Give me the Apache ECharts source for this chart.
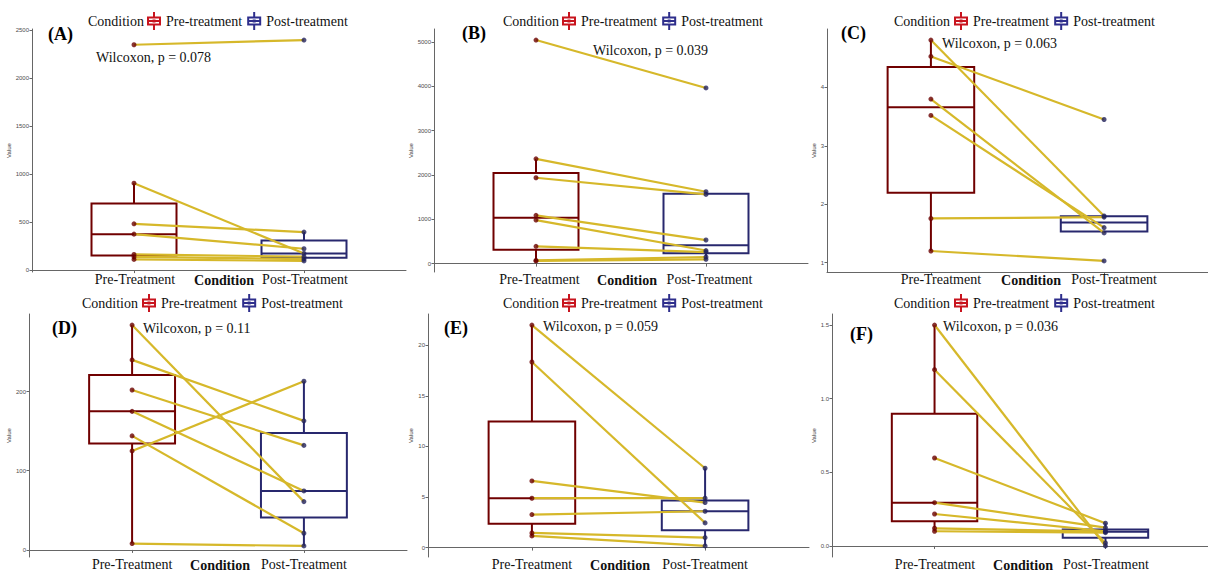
<!DOCTYPE html>
<html><head><meta charset="utf-8">
<script src="https://cdn.jsdelivr.net/npm/echarts@6/dist/echarts.min.js"></script>
<style>html,body{margin:0;padding:0;background:#fff}#c{width:1208px;height:573px}</style>
</head><body><div id="c"></div>
<script>
// ---------------- data ----------------
const categories = ['Pre-Treatment', 'Post-Treatment'];
const legendNames = ['Pre-treatment', 'Post-treatment'];
const panelLabels = ['(A)', '(B)', '(C)', '(D)', '(E)', '(F)'];
const pValues = ['0.078', '0.039', '0.063', '0.11', '0.059', '0.036'];

const preA  = [2344, 904, 481, 374, 163, 138, 111];
const postA = [2393, 173, 395, 222, 140, 115, 95];
const preB  = [5045, 2365, 1937, 1090, 983, 390, 72, 60];
const postB = [3964, 1622, 1562, 532, 295, 261, 149, 97];
const preC  = [4.81, 4.53, 3.80, 3.52, 1.757, 1.20];
const postC = [1.80, 3.45, 1.51, 1.60, 1.78, 1.03];
const preD  = [284, 240, 202, 175, 144, 125, 8];
const postD = [61, 163, 132, 74.5, 21, 213, 5];
const preE  = [22.0, 18.35, 6.59, 4.88, 3.26, 1.45, 1.15];
const postE = [7.84, 2.44, 4.45, 4.88, 3.59, 0.99, 0.16];
const preF  = [1.50, 1.197, 0.597, 0.294, 0.217, 0.12, 0.10];
const postF = [0.0, 0.02, 0.154, 0.124, 0.10, 0.097, 0.09];

const yTicksA = [0, 500, 1000, 1500, 2000, 2500];
const yTicksB = [0, 1000, 2000, 3000, 4000, 5000];
const yTicksC = [1, 2, 3, 4];
const yTicksD = [0, 100, 200];
const yTicksE = [0, 5, 10, 15, 20];
const yTicksF = [0, 0.5, 1.0, 1.5];

// ---------------- layout / style ----------------
const SERIF = '"Liberation Serif", "Times New Roman", serif';
const SANS = '"Liberation Sans", Arial, sans-serif';
const PRE_COLOR = '#700000', POST_COLOR = '#28286e';
const PRE_PT = '#6a0000', POST_PT = '#22225c';
const LINE_COLOR = '#D6B82A';
const ICON = 'path://M6,0h2v4.5h-2z M0,4.5h14v2h-14z M0,11.5h14v2h-14z M0,4.5h2v9h-2z M12,4.5h2v9h-2z M0,8h14v2h-14z M6,13.5h2v4.5h-2z M5.5,7.5h3v3h-3z';

const panels = [
  {pre: preA, post: postA, ticks: yTicksA, fmt: v => String(v)},
  {pre: preB, post: postB, ticks: yTicksB, fmt: v => String(v)},
  {pre: preC, post: postC, ticks: yTicksC, fmt: v => String(v)},
  {pre: preD, post: postD, ticks: yTicksD, fmt: v => String(v)},
  {pre: preE, post: postE, ticks: yTicksE, fmt: v => String(v)},
  {pre: preF, post: postF, ticks: yTicksF, fmt: v => v.toFixed(1)}
];
const layout = [
  {left: 32,  top: 29,  width: 374, legendLeft: 147, legendTop: 12,  condX: 88,  labX: 48,  labY: 34,  wX: 96,  wY: 57,  condCx: 224,  vGap: 13, labShift: 2},
  {left: 434, top: 29,  width: 374, legendLeft: 562, legendTop: 12,  condX: 503, labX: 462, labY: 33,  wX: 593, wY: 50,  condCx: 627,  vGap: 13, labShift: 7},
  {left: 827, top: 29,  width: 385, legendLeft: 954, legendTop: 12,  condX: 894, labX: 841, labY: 33,  wX: 942, wY: 43,  condCx: 1031, vGap: 5,  labShift: 20},
  {left: 29,  top: 314, width: 378, legendLeft: 142, legendTop: 294, condX: 82,  labX: 52,  labY: 328, wX: 143, wY: 328, condCx: 220,  vGap: 12, labShift: 0},
  {left: 428, top: 314, width: 381, legendLeft: 562, legendTop: 294, condX: 503, labX: 444, labY: 328, wX: 543, wY: 326, condCx: 620,  vGap: 7,  labShift: 0},
  {left: 832, top: 314, width: 378, legendLeft: 954, legendTop: 294, condX: 894, labX: 850, labY: 334, wX: 943, wY: 326, condCx: 1023, vGap: 10, labShift: 1}
];
const PLOT_H = 243;

// type-7 quantile + Tukey whiskers (like ggplot2's geom_boxplot)
function quantile(s, p) {
  const h = (s.length - 1) * p, lo = Math.floor(h), hi = Math.ceil(h);
  return s[lo] + (h - lo) * (s[hi] - s[lo]);
}
function boxStats(arr) {
  const s = arr.slice().sort((a, b) => a - b);
  const q1 = quantile(s, 0.25), md = quantile(s, 0.5), q3 = quantile(s, 0.75);
  const iqr = q3 - q1;
  const inside = s.filter(v => v >= q1 - 1.5 * iqr && v <= q3 + 1.5 * iqr);
  return [inside[0], q1, md, q3, inside[inside.length - 1]];
}

function renderBox(color) {
  return function (params, api) {
    const x = api.value(0);
    const pLo = api.coord([x, api.value(1)]), pQ1 = api.coord([x, api.value(2)]);
    const pMd = api.coord([x, api.value(3)]), pQ3 = api.coord([x, api.value(4)]);
    const pHi = api.coord([x, api.value(5)]);
    const half = api.size([0.5, 0])[0] / 2;
    const st = {stroke: color, lineWidth: 2, fill: 'none'};
    return {type: 'group', children: [
      {type: 'line', shape: {x1: pQ3[0], y1: pQ3[1], x2: pHi[0], y2: pHi[1]}, style: st},
      {type: 'line', shape: {x1: pQ1[0], y1: pQ1[1], x2: pLo[0], y2: pLo[1]}, style: st},
      {type: 'rect', shape: {x: pQ3[0] - half, y: pQ3[1], width: 2 * half, height: pQ1[1] - pQ3[1]}, style: {stroke: color, lineWidth: 2, fill: '#fff'}},
      {type: 'line', shape: {x1: pMd[0] - half, y1: pMd[1], x2: pMd[0] + half, y2: pMd[1]}, style: st}
    ]};
  };
}
function renderPair(params, api) {
  const a = api.coord([api.value(0), api.value(1)]);
  const b = api.coord([api.value(2), api.value(3)]);
  return {type: 'line', shape: {x1: a[0], y1: a[1], x2: b[0], y2: b[1]}, style: {stroke: LINE_COLOR, lineWidth: 2.2}};
}

const grid = [], xAxis = [], yAxis = [], series = [], legend = [], graphic = [];
panels.forEach((P, i) => {
  const L = layout[i];
  const all = P.pre.concat(P.post);
  const mn = Math.min(...all), mx = Math.max(...all), r = mx - mn;
  grid.push({left: L.left, top: L.top, width: L.width, height: PLOT_H});
  xAxis.push({
    gridIndex: i, type: 'value', min: 0.4, max: 2.6,
    splitLine: {show: false},
    axisLine: {show: true, lineStyle: {color: '#666', width: 1}},
    axisTick: {show: true, customValues: [1, 2], length: 3, lineStyle: {color: '#666'}},
    axisLabel: {customValues: [1, 2], formatter: v => categories[Math.round(v) - 1], margin: 0,
      fontFamily: SERIF, fontSize: 14, color: '#111', padding: [0, 0, 0, L.labShift]}
  });
  yAxis.push({
    gridIndex: i, type: 'value', min: mn - 0.05 * r, max: mx + 0.05 * r,
    splitLine: {show: false},
    axisLine: {show: true, lineStyle: {color: '#666', width: 1}},
    axisTick: {show: true, customValues: P.ticks, length: 2.5, lineStyle: {color: '#666'}},
    axisLabel: {customValues: P.ticks, formatter: P.fmt, fontFamily: SANS, fontSize: 6, color: '#4d4d4d', margin: 3},
    name: 'Value', nameLocation: 'middle', nameGap: L.vGap, nameRotate: 90,
    nameTextStyle: {fontFamily: SANS, fontSize: 6, color: '#333'}
  });
  series.push({
    type: 'custom', name: legendNames[0], xAxisIndex: i, yAxisIndex: i,
    renderItem: renderBox(PRE_COLOR), itemStyle: {color: PRE_COLOR},
    encode: {x: 0, y: [1, 2, 3, 4, 5]}, data: [[1].concat(boxStats(P.pre))], silent: true, z: 2
  });
  series.push({
    type: 'custom', name: legendNames[1], xAxisIndex: i, yAxisIndex: i,
    renderItem: renderBox(POST_COLOR), itemStyle: {color: POST_COLOR},
    encode: {x: 0, y: [1, 2, 3, 4, 5]}, data: [[2].concat(boxStats(P.post))], silent: true, z: 2
  });
  series.push({
    type: 'custom', name: 'pairs' + i, xAxisIndex: i, yAxisIndex: i, renderItem: renderPair,
    encode: {x: [0, 2], y: [1, 3]}, data: P.pre.map((v, k) => [1, v, 2, P.post[k]]), silent: true, z: 3
  });
  series.push({
    type: 'scatter', name: 'prePts' + i, xAxisIndex: i, yAxisIndex: i, symbolSize: 5,
    itemStyle: {color: PRE_PT}, data: P.pre.map(v => [1, v]), silent: true, z: 4
  });
  series.push({
    type: 'scatter', name: 'postPts' + i, xAxisIndex: i, yAxisIndex: i, symbolSize: 5,
    itemStyle: {color: POST_PT}, data: P.post.map(v => [2, v]), silent: true, z: 4
  });
  legend.push({
    left: L.legendLeft, top: L.legendTop, padding: 0, orient: 'horizontal',
    itemWidth: 14, itemHeight: 18, itemGap: 5, selectedMode: false,
    textStyle: {fontFamily: SERIF, fontSize: 14, color: '#111'},
    data: [
      {name: legendNames[0], icon: ICON, itemStyle: {color: '#C8141E', borderWidth: 0}},
      {name: legendNames[1], icon: ICON, itemStyle: {color: '#2E2E8C', borderWidth: 0}}
    ]
  });
  graphic.push({type: 'text', x: L.condX, y: L.legendTop + 9, silent: true,
    style: {text: 'Condition', fontFamily: SERIF, fontSize: 14, fill: '#111', align: 'left', verticalAlign: 'middle'}});
  graphic.push({type: 'text', x: L.labX, y: L.labY, silent: true,
    style: {text: panelLabels[i], fontFamily: SERIF, fontSize: 18, fontWeight: 'bold', fill: '#000', align: 'left', verticalAlign: 'middle'}});
  graphic.push({type: 'text', x: L.wX, y: L.wY, silent: true,
    style: {text: 'Wilcoxon, p = ' + pValues[i], fontFamily: SERIF, fontSize: 14, fill: '#111', align: 'left', verticalAlign: 'middle'}});
  graphic.push({type: 'text', x: L.condCx, y: L.top + PLOT_H + 8, silent: true,
    style: {text: 'Condition', fontFamily: SERIF, fontSize: 14, fontWeight: 'bold', fill: '#111', align: 'center', verticalAlign: 'middle'}});
});

const chart = echarts.init(document.getElementById('c'), null, {renderer: 'svg', width: 1208, height: 573});
chart.setOption({
  backgroundColor: '#fff', animation: false,
  grid, xAxis, yAxis, series, legend, graphic
});
</script>
</body></html>
